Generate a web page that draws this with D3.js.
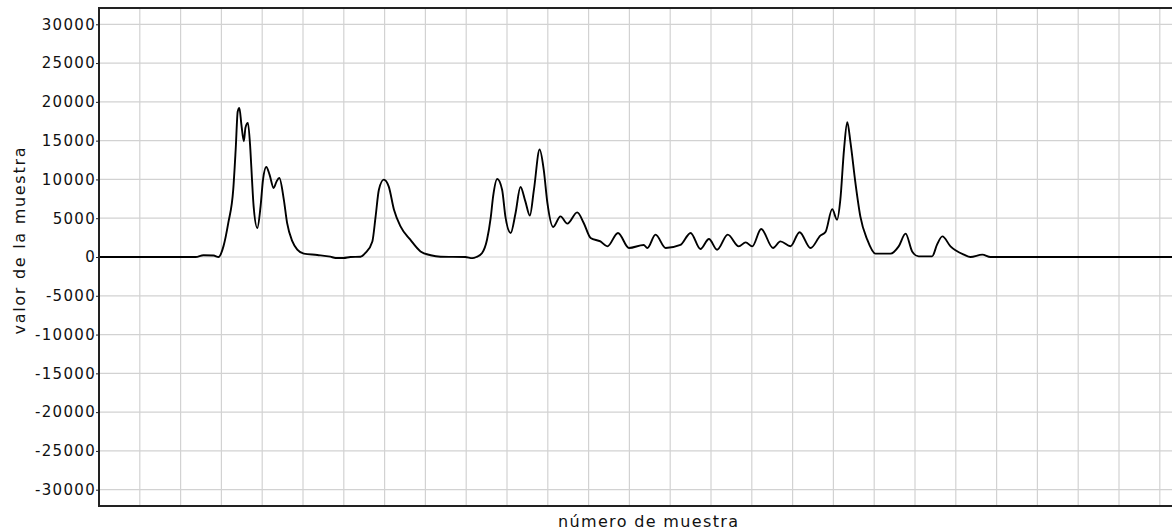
<!DOCTYPE html>
<html>
<head>
<meta charset="utf-8">
<script src="https://cdn.jsdelivr.net/npm/d3@7"></script>
<style>
  body { margin: 0; background: #fff; }
  svg { display: block; }
</style>
</head>
<body>
<svg></svg>
<script>
// número de muestra
const muestras = [
  0, 2370, 2560, 2810, 2930, 3050, 3170, 3290, 3350, 3400,
  3440, 3490, 3550, 3590, 3650, 3710, 3750, 3790, 3880, 3960,
  4020, 4100, 4180, 4280, 4350, 4420, 4530, 4610, 4740, 4860,
  5020, 5350, 5670, 5800, 5990, 6160, 6410, 6530, 6700, 6780,
  6860, 6980, 7100, 7230, 7390, 7630, 7880, 8130, 8370, 8980,
  9150, 9250, 9390, 9510, 9600, 9660, 9760, 9880, 9960, 10090,
  10210, 10330, 10450, 10560, 10660, 10800, 10900, 10990, 11130, 11310,
  11480, 11720, 11880, 12050, 12290, 12460, 12720, 12990, 13350, 13440,
  13640, 13890, 14250, 14500, 14740, 14950, 15150, 15410, 15680, 15850,
  16010, 16230, 16520, 16700, 16950, 17170, 17440, 17680, 17810, 17970,
  18090, 18170, 18260, 18340, 18420, 18540, 18660, 18830, 19030, 19400,
  19600, 19770, 19930, 20090, 20420, 20540, 20670, 20870, 21200, 21360,
  21650, 21850, 22500, 27000
];

// valor de la muestra
const valores = [
  0, 0, 230, 190, 0, 1370, 4430, 8680, 13850, 18750,
  19230, 17070, 14920, 16680, 17290, 13850, 9970, 6530, 3740, 6530,
  9970, 11610, 10620, 8900, 9720, 10190, 7390, 4390, 2010, 940,
  430, 260, 40, -130, -130, 0, 40, 520, 2010, 5240,
  8680, 9970, 9110, 6100, 3950, 2230, 720, 230, 40, 0,
  -150, 0, 520, 2230, 5030, 7820, 10060, 8680, 5240, 3100,
  5680, 9030, 7170, 5330, 8680, 13850, 11260, 6970, 3870, 5240,
  4300, 5750, 4390, 2450, 2010, 1370, 3100, 1160, 1550, 1160,
  2880, 1160, 1550, 3100, 1030, 2320, 940, 2880, 1370, 1880,
  1370, 3610, 1160, 2010, 1390, 3200, 1160, 2750, 3260, 6170,
  4810, 7390, 13850, 17370, 14710, 9550, 5240, 2230, 430, 430,
  1370, 3010, 720, 80, 80, 1590, 2660, 1370, 300, 0,
  300, 0, 0, 0
];

const ticksY = [30000, 25000, 20000, 15000, 10000, 5000, 0,
  -5000, -10000, -15000, -20000, -25000, -30000];
const ticksX = d3.range(1000, 27000, 1000);

const width = 1172;
const height = 531;
const marginLeft = 99;
const marginTop = 8;
const plotBottom = 506;
const plotRight = 1200.6;

let svg = d3.select("svg")
  .attr("width", width)
  .attr("height", height);

let scX = d3.scaleLinear().domain([0, 27000]).range([marginLeft, plotRight]);
let scY = d3.scaleLinear().domain([-32100, 32100]).range([plotBottom, marginTop]);

// rejilla
svg.append("g")
  .selectAll("line")
  .data(ticksX)
  .join("line")
  .attr("x1", d => scX(d)).attr("x2", d => scX(d))
  .attr("y1", marginTop).attr("y2", plotBottom)
  .attr("stroke", "#d2d2d2")
  .attr("stroke-width", 1.2);

svg.append("g")
  .selectAll("line")
  .data(ticksY)
  .join("line")
  .attr("x1", marginLeft).attr("x2", plotRight)
  .attr("y1", d => scY(d)).attr("y2", d => scY(d))
  .attr("stroke", "#d2d2d2")
  .attr("stroke-width", 1.2);

// curva
svg.append("clipPath").attr("id", "clip")
  .append("rect")
  .attr("x", marginLeft).attr("y", marginTop)
  .attr("width", plotRight - marginLeft).attr("height", plotBottom - marginTop);

let line = d3.line()
  .x((d, i) => scX(muestras[i]))
  .y(d => scY(d))
  .curve(d3.curveMonotoneX);

svg.append("path")
  .datum(valores)
  .attr("clip-path", "url(#clip)")
  .attr("d", line)
  .attr("fill", "none")
  .attr("stroke", "#000")
  .attr("stroke-width", 1.9)
  .attr("stroke-linejoin", "round");

// eje Y
let axisY = d3.axisLeft(scY)
  .tickValues(ticksY)
  .tickSize(3)
  .tickPadding(0)
  .tickFormat(d => String(d));

let gY = svg.append("g")
  .attr("transform", `translate(${marginLeft}, 0)`)
  .call(axisY);
gY.select(".domain").remove();
gY.selectAll(".tick line").attr("stroke", "#222");
gY.selectAll("text")
  .style("font-family", "'DejaVu Sans', sans-serif")
  .style("font-size", "15px")
  .style("letter-spacing", "1.3px")
  .attr("fill", "#111");

// marco
svg.append("path")
  .attr("d", `M${plotRight},${marginTop}H${marginLeft}V${plotBottom}H${plotRight}`)
  .attr("fill", "none")
  .attr("stroke", "#222")
  .attr("stroke-width", 2);

// títulos de ejes
svg.append("text")
  .attr("x", 648)
  .attr("y", 527)
  .attr("text-anchor", "middle")
  .attr("textLength", 180)
  .attr("lengthAdjust", "spacing")
  .style("font-family", "'DejaVu Sans', sans-serif")
  .style("font-size", "16px")
  .attr("fill", "#111")
  .text("número de muestra");

svg.append("text")
  .attr("transform", "translate(25, 241) rotate(-90)")
  .attr("text-anchor", "middle")
  .attr("textLength", 187)
  .attr("lengthAdjust", "spacing")
  .style("font-family", "'DejaVu Sans', sans-serif")
  .style("font-size", "16px")
  .attr("fill", "#111")
  .text("valor de la muestra");
</script>
</body>
</html>
